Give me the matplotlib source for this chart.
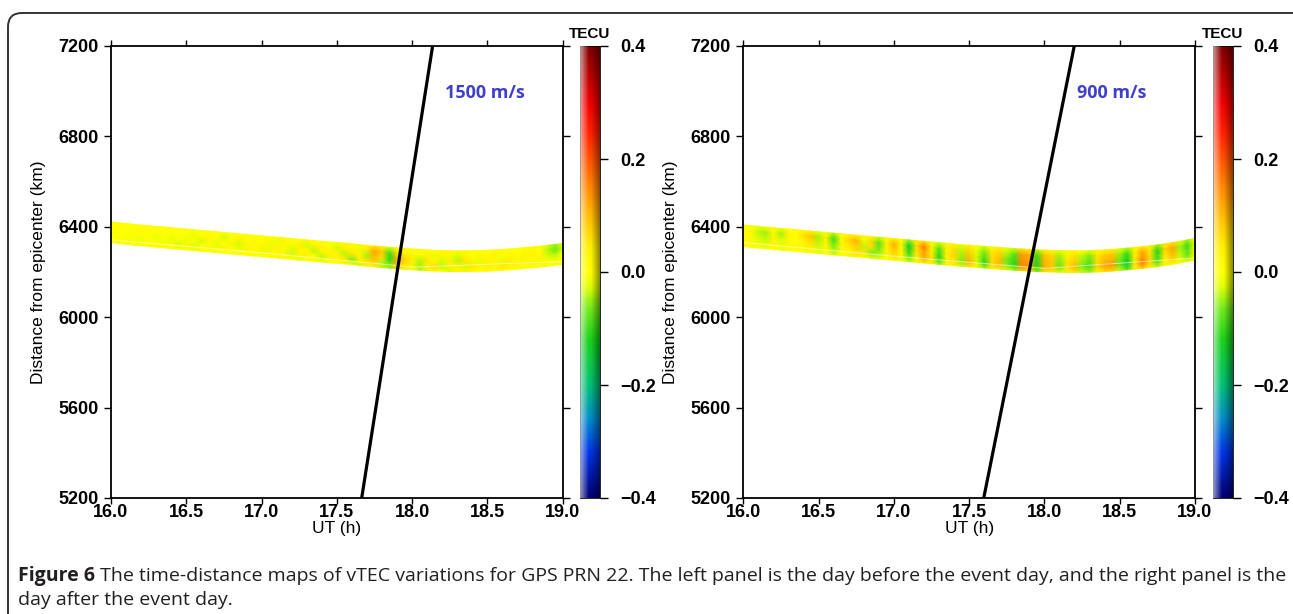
import numpy as np
import matplotlib
matplotlib.use("Agg")
import matplotlib.pyplot as plt
from matplotlib.colors import LinearSegmentedColormap, Normalize
from matplotlib.patches import FancyBboxPatch
from matplotlib.transforms import IdentityTransform

# ---------------- data ----------------
times = [16.00, 16.05, 16.10, 16.15, 16.20, 16.25, 16.30, 16.35, 16.40, 16.45,
         16.50, 16.55, 16.60, 16.65, 16.70, 16.75, 16.80, 16.85, 16.90, 16.95,
         17.00, 17.05, 17.10, 17.15, 17.20, 17.25, 17.30, 17.35, 17.40, 17.45,
         17.50, 17.55, 17.60, 17.65, 17.70, 17.75, 17.80, 17.85, 17.90, 17.95,
         18.00, 18.05, 18.10, 18.15, 18.20, 18.25, 18.30, 18.35, 18.40, 18.45,
         18.50, 18.55, 18.60, 18.65, 18.70, 18.75, 18.80, 18.85, 18.90, 18.95,
         19.00]

# band centre distance (km) for each time node
left_center = [6376, 6372, 6369, 6365, 6362, 6359, 6356, 6353, 6350, 6347,
               6344, 6341, 6338, 6335, 6332, 6329, 6326, 6323, 6320, 6317,
               6314, 6311, 6308, 6305, 6302, 6299, 6296, 6293, 6290, 6287,
               6285, 6282, 6279, 6275, 6272, 6269, 6266, 6263, 6261, 6258,
               6256, 6254, 6252, 6250, 6249, 6248, 6248, 6248, 6248, 6249,
               6250, 6252, 6254, 6256, 6259, 6262, 6265, 6268, 6272, 6276,
               6280]
right_center = [6360, 6357, 6354, 6351, 6348, 6345, 6342, 6339, 6336, 6333,
                6330, 6327, 6324, 6321, 6318, 6315, 6312, 6309, 6306, 6303,
                6300, 6297, 6294, 6291, 6288, 6285, 6282, 6279, 6276, 6273,
                6271, 6268, 6266, 6263, 6261, 6258, 6256, 6254, 6252, 6250,
                6249, 6248, 6247, 6246, 6246, 6246, 6247, 6248, 6250, 6252,
                6255, 6258, 6261, 6264, 6268, 6272, 6277, 6282, 6288, 6294,
                6301]
left_halfwidth = 46
right_halfwidth = 48
row_fraction = [1.0, 0.5, 0.0, -0.5, -1.0]   # top edge -> bottom edge of the band

# vTEC anomaly (TECU), rows from top edge to bottom edge of the band
left_rows = [
    [0, 0, 0, 0, 0, 0, 0, 0, 0, 0,
     0, 0, 0, 0, 0, 0, 0, 0, 0, 0,
     0, 0, 0, 0.01, 0, 0, 0.02, 0, 0, 0,
     0, 0.02, 0, 0.03, 0, 0.05, 0.02, -0.03, 0.02, 0,
     0, 0.02, 0, 0, 0.02, 0, 0, 0.02, 0, 0,
     0, 0, 0.02, 0, 0, 0, 0.02, 0, -0.03, -0.05, -0.02],
    [0, 0, 0, 0, 0.01, 0, 0, 0, 0, 0,
     0, -0.02, 0, 0.02, 0, -0.03, 0, 0.03, 0, 0.02,
     0, 0.03, -0.02, 0.03, 0, 0.04, -0.03, 0.03, 0.02, 0,
     -0.03, 0.04, 0.03, -0.02, 0.05, 0.12, 0.08, -0.09, 0.06, 0.04,
     0.02, 0, 0.03, -0.02, 0.03, 0.02, -0.03, 0.04, 0, 0.03,
     0, 0.03, 0, 0.02, 0, 0.03, 0.02, 0, -0.04, -0.07, -0.03],
    [0, 0, 0, -0.01, 0, 0, -0.02, 0, -0.02, 0,
     -0.02, 0, -0.03, 0.02, -0.02, 0, 0.03, -0.03, 0.02, 0,
     0.03, -0.02, 0.04, 0, -0.03, 0.04, 0.02, -0.04, 0.03, 0.03,
     0.04, -0.04, 0.05, 0.03, -0.05, 0.10, 0.06, -0.11, 0.10, 0.08,
     0.04, -0.04, 0.05, 0.02, -0.03, 0.04, -0.04, 0.05, 0.03, -0.02,
     0.03, 0.02, -0.02, 0.04, 0.02, 0.03, 0, 0.03, -0.03, -0.04, 0],
    [0, 0, -0.01, 0, -0.02, 0, 0, -0.02, 0, -0.03,
     0, -0.03, 0, 0.02, -0.02, 0.03, 0, -0.02, 0.03, 0.02,
     -0.02, 0.03, 0, 0.04, -0.03, 0.02, 0.04, 0, -0.04, 0.04,
     0.02, 0.05, -0.06, 0.04, 0.06, 0.08, -0.04, -0.08, 0.10, 0.06,
     0.03, -0.05, 0.04, 0.06, -0.04, 0.03, 0.04, -0.03, 0.05, 0.02,
     0.04, 0.02, 0.05, 0.03, 0.04, 0, 0.03, 0.02, 0, -0.02, 0],
    [0, 0, 0, 0, 0, 0, 0, 0, 0, 0,
     0, 0, 0, 0, 0, 0, 0, 0, 0, 0,
     0, 0, 0.02, 0, 0, -0.02, 0, 0.02, 0, 0,
     0, 0.02, 0, -0.03, 0.02, 0.03, -0.04, -0.05, 0.06, 0.04,
     0, -0.04, 0.03, 0.02, 0, -0.03, 0.02, 0.03, 0, 0,
     0.02, 0, 0.02, 0, 0, 0, 0, 0, 0, 0, 0],
]
right_rows = [
    [0, 0, -0.01, 0, 0, -0.02, 0, 0, 0.02, 0.03,
     -0.02, 0, -0.04, 0, 0.03, 0.04, 0, 0.02, -0.03, 0,
     0.04, 0, -0.05, 0.02, 0.06, 0, -0.03, 0.02, 0.03, -0.02,
     0.03, 0, -0.03, 0.02, 0.03, -0.02, -0.03, 0.05, 0.04, -0.04,
     0.03, 0.02, -0.02, 0.02, 0.03, 0, -0.02, 0.02, 0.04, 0.04,
     -0.02, -0.04, 0.02, 0.05, 0.02, -0.05, 0.04, 0.06, -0.02, -0.05, 0],
    [0, 0.02, -0.04, -0.05, 0.02, -0.05, 0.03, 0, 0.06, 0.09,
     -0.05, 0.04, -0.10, 0.02, 0.07, 0.11, -0.02, 0.07, -0.08, 0.03,
     0.11, 0.02, -0.14, 0.06, 0.16, 0.03, -0.08, 0.04, 0.06, -0.04,
     0.07, -0.02, -0.06, 0.05, 0.07, -0.04, -0.08, 0.13, 0.11, -0.10,
     0.09, 0.07, -0.05, 0.04, 0.06, -0.04, -0.06, 0.05, 0.08, 0.09,
     -0.05, -0.10, 0.03, 0.12, 0.05, -0.11, 0.07, 0.12, -0.05, -0.10, 0.02],
    [0, 0.02, -0.03, -0.04, 0.03, -0.03, 0.02, 0, 0.04, 0.06,
     -0.04, 0.03, -0.07, 0.03, 0.05, 0.08, -0.04, 0.06, -0.07, 0.03,
     0.09, 0.02, -0.11, 0.05, 0.13, 0.04, -0.10, 0.04, 0.07, -0.05,
     0.09, -0.03, -0.09, 0.06, 0.09, -0.06, -0.10, 0.14, 0.12, -0.11,
     0.10, 0.08, -0.06, 0.05, 0.08, -0.05, -0.08, 0.06, 0.10, 0.11,
     -0.06, -0.12, 0.04, 0.14, 0.06, -0.10, 0.05, 0.10, -0.04, -0.08, 0.02],
    [0, 0.01, -0.02, -0.03, 0.02, -0.02, 0.02, 0, 0.03, 0.04,
     -0.03, 0.02, -0.05, 0.02, 0.04, 0.06, 0.05, -0.06, -0.05, 0.02,
     0.07, 0.03, -0.08, 0.04, 0.12, 0.05, -0.11, 0.03, 0.06, -0.06,
     0.11, -0.03, -0.11, 0.07, 0.10, -0.06, -0.11, 0.15, 0.13, -0.12,
     0.11, 0.09, -0.07, 0.06, 0.10, -0.06, -0.09, 0.07, 0.12, 0.13,
     -0.07, -0.15, 0.05, 0.16, 0.07, -0.09, 0.04, 0.08, -0.03, -0.07, 0.02],
    [0, 0, -0.01, 0, 0, -0.01, 0, 0, 0.02, 0.02,
     -0.02, 0, -0.03, 0, 0.02, 0.03, 0.02, -0.02, -0.02, 0,
     0.03, 0, -0.04, 0.02, 0.05, 0.02, -0.05, 0.02, 0.03, -0.03,
     0.05, 0, -0.05, 0.03, 0.05, -0.03, -0.05, 0.08, 0.07, -0.06,
     0.06, 0.05, -0.03, 0.03, 0.05, -0.03, -0.05, 0.04, 0.06, 0.07,
     -0.03, -0.08, 0.02, 0.08, 0.03, -0.04, 0.02, 0.03, 0, -0.02, 0],
]

# thin data gap inside each band
gap_times = [16.0, 17.0, 18.0, 19.0]
left_gap = [6342, 6285, 6222, 6246]
right_gap = [6330, 6270, 6216, 6262]

# propagation reference lines (time at 5200 km and 7200 km)
left_line_t = [17.665, 18.136]
right_line_t = [17.597, 18.198]
line_d = [5200, 7200]
left_speed_label = "1500 m/s"
right_speed_label = "900 m/s"

xticks = [16.0, 16.5, 17.0, 17.5, 18.0, 18.5, 19.0]
xticklabels = ["16.0", "16.5", "17.0", "17.5", "18.0", "18.5", "19.0"]
yticks = [5200, 5600, 6000, 6400, 6800, 7200]
cbar_ticks = [-0.4, -0.2, 0.0, 0.2, 0.4]
cbar_ticklabels = ["\u22120.4", "\u22120.2", "0.0", "0.2", "0.4"]

caption_bold = "Figure 6"
caption_line1 = (" The time-distance maps of vTEC variations for GPS PRN 22. "
                 "The left panel is the day before the event day, and the right panel is the")
caption_line2 = "day after the event day."

# ---------------- style ----------------
W, H = 1293, 614
fig = plt.figure(figsize=(W / 100, H / 100), dpi=100)
plt.rcParams['font.family'] = ['Liberation Sans', 'DejaVu Sans']

cmap = LinearSegmentedColormap.from_list("tecu", [
    (0.000, (0.00, 0.00, 0.45)),
    (0.100, (0.00, 0.20, 0.90)),
    (0.175, (0.00, 0.55, 0.78)),
    (0.250, (0.00, 0.75, 0.45)),
    (0.350, (0.10, 0.82, 0.10)),
    (0.420, (0.45, 0.92, 0.10)),
    (0.470, (0.90, 1.00, 0.00)),
    (0.500, (1.00, 1.00, 0.00)),
    (0.550, (1.00, 0.95, 0.00)),
    (0.610, (1.00, 0.78, 0.00)),
    (0.690, (1.00, 0.52, 0.00)),
    (0.810, (1.00, 0.12, 0.00)),
    (0.870, (0.95, 0.00, 0.00)),
    (1.000, (0.50, 0.00, 0.00)),
])
norm = Normalize(vmin=-0.4, vmax=0.4)


def px(x0, y0, w, h):
    return [x0 / W, 1 - (y0 + h) / H, w / W, h / H]


panels = [
    dict(ax=px(111, 46, 451.7, 452), cax=px(580, 46, 19.5, 452),
         center=left_center, hw=left_halfwidth, rows=left_rows, gap=left_gap,
         line_t=left_line_t, label=left_speed_label),
    dict(ax=px(743.3, 46, 451.7, 452), cax=px(1213, 46, 19.5, 452),
         center=right_center, hw=right_halfwidth, rows=right_rows, gap=right_gap,
         line_t=right_line_t, label=right_speed_label),
]

tick_font = dict(fontsize=13, fontweight='bold')
for p in panels:
    ax = fig.add_axes(p['ax'])
    t = np.array(times)
    c = np.array(p['center'], dtype=float)
    X = np.tile(t, (len(row_fraction), 1))
    Y = c[None, :] + np.array(row_fraction)[:, None] * p['hw']
    C = np.array(p['rows'], dtype=float)
    m = ax.pcolormesh(X, Y, C, cmap=cmap, norm=norm, shading='gouraud',
                      rasterized=True)
    ax.plot(gap_times, p['gap'], color='white', lw=0.7, alpha=0.6)
    ax.plot(p['line_t'], line_d, color='black', lw=2.3, solid_capstyle='butt')
    ax.text(18.218, 6992, p['label'], color='#4040cc', fontsize=13,
            fontweight='bold', family=['Open Sans', 'DejaVu Sans'],
            ha='left', va='center')
    ax.set_xlim(16.0, 19.0)
    ax.set_ylim(5200, 7200)
    ax.set_xticks(xticks)
    ax.set_xticklabels(xticklabels, **tick_font)
    ax.set_yticks(yticks)
    ax.set_yticklabels([str(v) for v in yticks], **tick_font)
    ax.tick_params(direction='out', length=5, width=1.0, top=True, right=True,
                   color='black')
    ax.tick_params(axis='x', which='major', length=4, pad=0.5)
    ax.tick_params(axis='y', pad=4)
    for s in ax.spines.values():
        s.set_linewidth(1.3)
    ax.set_xlabel("UT (h)", fontsize=12.5, labelpad=0)
    ax.set_ylabel("Distance from epicenter (km)", fontsize=12.5, labelpad=9)

    cax = fig.add_axes(p['cax'])
    cb = fig.colorbar(m, cax=cax, ticks=cbar_ticks)
    cb.ax.set_yticklabels(cbar_ticklabels, **tick_font)
    cb.ax.tick_params(direction='out', length=6, width=1.0, pad=9)
    cb.outline.set_linewidth(0.6)
    # tube-like shading of the colour bar
    shade = np.zeros((2, 64, 4))
    xs = np.linspace(0, 1, 64)
    light = np.clip(1 - xs / 0.45, 0, 1)
    dark = np.clip((xs - 0.55) / 0.45, 0, 1)
    shade[:, :, 0:3] = np.where(light[None, :, None] > 0, 1.0, 0.0)
    shade[:, :, 3] = light * 0.6 + dark * 0.45
    cax.imshow(shade, extent=[0, 1, -0.4, 0.4], aspect='auto',
               zorder=3, interpolation='bilinear')
    cax.set_xlim(0, 1)
    cax.set_ylim(-0.4, 0.4)
    cax.text(0.5, 1.012, "TECU", transform=cax.transAxes, ha='center',
             va='bottom', fontsize=11, fontweight='bold')

# frame around the figure (only top-left part visible)
frame = FancyBboxPatch((8, -40), 1320, 614 - 13 + 40,
                       boxstyle="round,pad=0,rounding_size=14",
                       transform=IdentityTransform(), fill=False,
                       edgecolor='#333333', lw=1.4, clip_on=False)
fig.patches.append(frame)

# caption
cap_font = ['Open Sans', 'DejaVu Sans']
fig.canvas.draw()
r = fig.canvas.get_renderer()
size = 13.0
tb = fig.text(18 / W, (H - 581) / H, caption_bold, fontsize=size,
              fontweight='bold', family=cap_font, color='#231f20', va='baseline')
tn = fig.text(0, (H - 581) / H, caption_line1, fontsize=size, family=cap_font,
              color='#231f20', va='baseline')
w1 = tb.get_window_extent(r).width
w2 = tn.get_window_extent(r).width
scale = (1275 - 18) / (w1 + w2)
size *= scale
tb.set_fontsize(size)
tn.set_fontsize(size)
fig.canvas.draw()
w1 = tb.get_window_extent(r).width
tn.set_x((18 + w1) / W)
fig.text(18 / W, (H - 605) / H, caption_line2, fontsize=size, family=cap_font,
         color='#231f20', va='baseline')

fig.savefig("out.png", dpi=100)
